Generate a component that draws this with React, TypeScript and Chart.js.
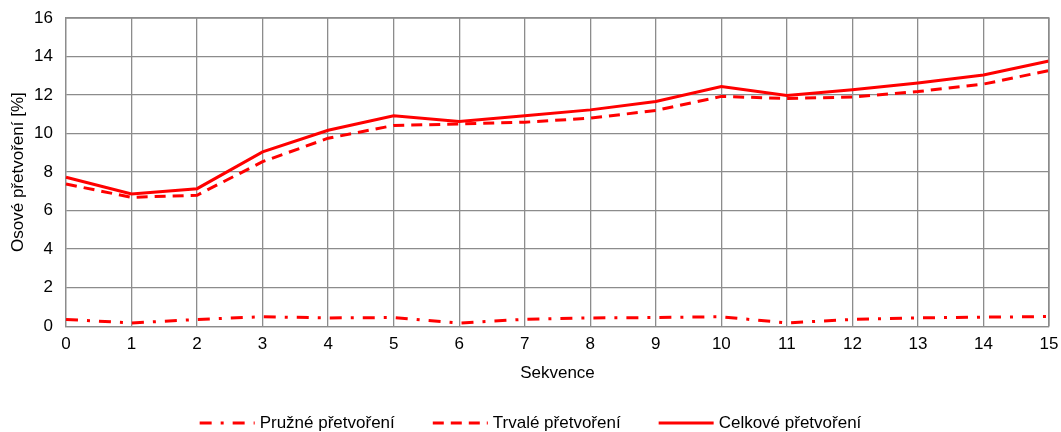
import React, { useEffect, useRef } from "react";
import { Chart, registerables } from "chart.js";

Chart.register(...registerables);

const categories = ["0","1","2","3","4","5","6","7","8","9","10","11","12","13","14","15"];
const pruzne = [0.35, 0.17, 0.35, 0.49, 0.43, 0.45, 0.16, 0.36, 0.43, 0.45, 0.49, 0.17, 0.35, 0.43, 0.47, 0.5];
const trvale = [7.38, 6.69, 6.8, 8.54, 9.76, 10.42, 10.5, 10.59, 10.8, 11.2, 11.93, 11.82, 11.9, 12.18, 12.57, 13.27];
const celkove = [7.73, 6.86, 7.14, 9.05, 10.17, 10.92, 10.63, 10.92, 11.23, 11.67, 12.44, 11.98, 12.27, 12.62, 13.04, 13.77];
const seriesNames = ["Pružné přetvoření", "Trvalé přetvoření", "Celkové přetvoření"];
const xTitle = "Sekvence";
const yTitle = "Osové přetvoření [%]";

const FONT = "'Liberation Sans', Arial, sans-serif";
const FS = 17;
const RED = "#ff0000";
const GRID = "#8c8c8c";

const legendPlugin = {
  id: "customLegend",
  afterDraw(c: any) {
    const g = c.ctx as CanvasRenderingContext2D;
    const lineLen = 55;
    const gap = 5;
    const itemGap = 38;
    g.save();
    g.font = `${FS}px ${FONT}`;
    const items = c.data.datasets.map((d: any) => ({
      text: d.label,
      w: g.measureText(d.label).width,
      dash: d.borderDash || [],
      color: d.borderColor,
      lw: d.borderWidth,
    }));
    let total = 0;
    items.forEach((it: any, i: number) => {
      total += lineLen + gap + it.w + (i < items.length - 1 ? itemGap : 0);
    });
    let x = (c.width - total) / 2;
    const y = 423;
    items.forEach((it: any) => {
      g.strokeStyle = it.color;
      g.lineWidth = it.lw;
      g.setLineDash(it.dash);
      g.beginPath();
      g.moveTo(x, y);
      g.lineTo(x + lineLen, y);
      g.stroke();
      g.setLineDash([]);
      g.fillStyle = "#000";
      g.textBaseline = "middle";
      g.textAlign = "left";
      g.fillText(it.text, x + lineLen + gap, y);
      x += lineLen + gap + it.w + itemGap;
    });
    g.restore();
  },
};

const framePlugin = {
  id: "frame",
  afterDatasetsDraw(c: any) {
    const { ctx: g, chartArea: a } = c;
    g.save();
    g.strokeStyle = GRID;
    g.lineWidth = 1.3;
    g.beginPath();
    g.moveTo(a.left, a.top);
    g.lineTo(a.right, a.top);
    g.lineTo(a.right, a.bottom);
    g.stroke();
    g.restore();
  },
};

export default function App() {
  const ref = useRef<HTMLCanvasElement | null>(null);
  useEffect(() => {
    document.body.style.margin = "0";
    const ctx = ref.current!;
    const chart = new Chart(ctx, {
      type: "line",
      data: {
        labels: categories,
        datasets: [
          { label: seriesNames[0], data: pruzne, borderColor: RED, backgroundColor: RED, borderWidth: 3, borderDash: [12, 9, 3, 9], pointRadius: 0, tension: 0 },
          { label: seriesNames[1], data: trvale, borderColor: RED, backgroundColor: RED, borderWidth: 3, borderDash: [11, 7], pointRadius: 0, tension: 0 },
          { label: seriesNames[2], data: celkove, borderColor: RED, backgroundColor: RED, borderWidth: 3, pointRadius: 0, tension: 0 },
        ],
      },
      options: {
        animation: false,
        responsive: true,
        maintainAspectRatio: false,
        layout: { padding: { top: 18, right: 0, left: 8, bottom: 48 } },
        plugins: {
          tooltip: { enabled: false },
          legend: { display: false },
        },
        scales: {
          x: {
            offset: false,
            grid: { color: GRID, lineWidth: 1.3, drawTicks: false },
            border: { color: GRID, width: 1.3 },
            ticks: { color: "#000", padding: 8, maxRotation: 0, autoSkip: false, font: { family: FONT, size: FS } },
            title: { display: true, text: xTitle, color: "#000", font: { family: FONT, size: FS }, padding: { top: 1, bottom: 0 } },
            afterFit(scale: any) {
              scale.paddingRight = 12;
              scale.paddingLeft = 0;
            },
          },
          y: {
            min: 0,
            max: 16,
            ticks: { stepSize: 2, color: "#000", padding: 13, font: { family: FONT, size: FS } },
            grid: { color: GRID, lineWidth: 1.3, drawTicks: false },
            border: { color: GRID, width: 1.3 },
            title: { display: true, text: yTitle, color: "#000", font: { family: FONT, size: FS }, padding: { top: 0, bottom: 0 } },
            afterFit(scale: any) {
              scale.width = 58;
              scale.paddingTop = 0;
              scale.paddingBottom = 0;
            },
          },
        },
      },
      plugins: [framePlugin, legendPlugin],
    });
    return () => chart.destroy();
  }, []);
  return (
    <div style={{ width: 1061, height: 432, position: "relative" }}>
      <canvas ref={ref} />
    </div>
  );
}
